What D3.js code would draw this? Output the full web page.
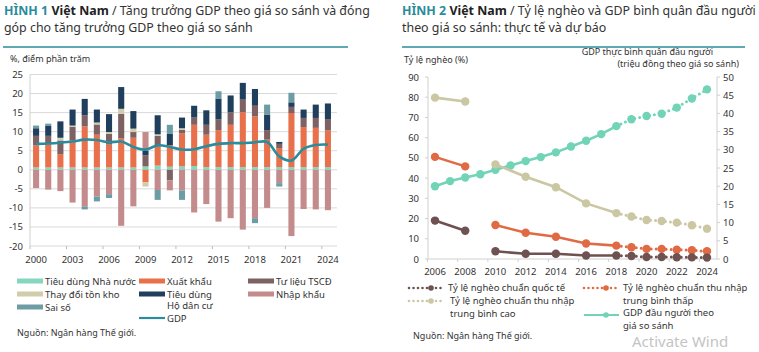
<html>
<head>
<meta charset="utf-8" />
<script src="https://cdn.jsdelivr.net/npm/d3@7"></script>
<style>
  html, body { margin: 0; padding: 0; background: #fff; }
  svg text { font-family: "Noto Sans", "DejaVu Sans", sans-serif; fill: #333; }
</style>
</head>
<body>
<svg width="759" height="352" id="mainsvg"></svg>
<script>
// ---------- data: figure 1 ----------
const years1 = d3.range(2000, 2025);
const nhaNuoc = [0.6,0.6,0.6,0.6,0.6,0.6,0.6,0.6,0.6,0.9,1.1,0.8,0.9,1.0,0.7,0.7,0.7,0.7,0.7,0.7,0.7,0.7,0.7,0.7,0.7];
const xuatKhau = [5.8,6.0,3.5,7.1,10.8,8.6,6.0,7.6,7.8,-3.3,5.0,5.7,8.7,10.8,8.5,9.7,11.1,14.4,13.3,7.2,5.0,14.2,10.5,10.3,9.6];
const tscd = [2.5,2.3,3.6,3.6,2.9,2.7,2.8,6.5,1.5,2.9,2.8,-2.8,0.9,1.9,2.6,2.8,3.3,3.3,2.8,2.5,1.1,1.6,2.4,2.6,3.0];
const tonKho = [0,0,0.7,0.3,0,0.5,0.5,1.3,0.9,-1.1,0.4,0,0.4,0,0,0,0,0,0,0,0,0,0,0,0];
const hoDanCu = [2.0,2.6,4.3,4.2,4.3,3.4,4.7,5.7,4.6,1.2,5.0,2.9,2.8,3.1,3.8,5.5,4.4,4.4,4.4,4.1,0.5,1.2,2.2,3.5,4.1];
const nhapKhau = [-4.8,-5.2,-5.6,-8.6,-9.6,-7.0,-6.4,-14.7,-9.6,4.9,-5.3,-2.6,-5.4,-11.2,-9.0,-13.6,-12.7,-15.7,-12.7,-10.0,-3.5,-17.4,-10.3,-10.4,-10.6];
const saiSo = [0.7,0.6,0,0,-0.8,-1.3,-1.0,0,0,0,-2.6,2.4,-2.5,0,0,1.9,0,0,-1.3,2.6,-0.9,2.5,0,0,0];
const gdp = [6.8,6.9,7.1,7.4,7.9,7.8,7.2,7.4,6.0,5.3,6.4,6.0,5.3,5.4,6.2,6.8,7.0,7.0,7.2,7.3,3.5,2.4,5.5,6.5,6.6];
const ticks1 = [-20,-15,-10,-5,0,5,10,15,20,25];
const xLabels1 = [2000,2003,2006,2009,2012,2015,2018,2021,2024];

// ---------- data: figure 2 ----------
const povYears = [2006,2008,2010,2012,2014,2016,2018,2019,2020,2021,2022,2023,2024];
const povQuocTe = [19.0,14.0,3.8,2.6,2.6,1.7,1.7,1.5,1.0,1.0,0.9,0.8,0.7];
const povTBThap = [50.5,45.8,16.8,13.0,11.0,7.7,6.6,5.8,5.0,5.0,4.6,4.3,3.8];
const povTBCao = [79.8,77.9,46.8,40.7,35.5,27.5,22.7,21.0,19.3,18.8,18.0,16.7,15.0];
const gdpYears = d3.range(2006, 2025);
const gdpPerCap = [20.0,21.4,22.4,23.3,24.5,25.7,26.9,28.0,29.3,30.9,32.5,34.3,36.5,38.4,39.3,39.9,41.6,44.1,46.6];
const leftTicks2 = [0,10,20,30,40,50,60,70,80,90];
const rightTicks2 = [0,5,10,15,20,25,30,35,40,45,50];
const xLabels2 = [2006,2008,2010,2012,2014,2016,2018,2020,2022,2024];
const forecastFrom = 2018;

const svg = d3.select("#mainsvg");
const teal = "#2a8c9c";

// ---------- titles ----------
function title(x, num, rest1, rest2) {
  const t = svg.append("text").attr("x", x).attr("y", 15).style("font-size", "12.4px");
  t.append("tspan").text(num + " ").style("font-weight", "700").style("fill", teal);
  t.append("tspan").text("Việt Nam").style("font-weight", "700").style("fill", "#222");
  t.append("tspan").text(" / " + rest1);
  svg.append("text").attr("x", x).attr("y", 32).style("font-size", "12.4px").text(rest2);
}
title(4, "HÌNH 1", "Tăng trưởng GDP theo giá so sánh và đóng", "góp cho tăng trưởng GDP theo giá so sánh");
title(402, "HÌNH 2", "Tỷ lệ nghèo và GDP bình quân đầu người", "theo giá so sánh: thực tế và dự báo");
svg.append("line").attr("x1", 3).attr("x2", 348).attr("y1", 47).attr("y2", 47).attr("stroke", teal).attr("stroke-width", 1.3);
svg.append("line").attr("x1", 402).attr("x2", 745).attr("y1", 47).attr("y2", 47).attr("stroke", teal).attr("stroke-width", 1.3);

// ---------- figure 1 ----------
const x1 = d3.scaleBand().domain(years1).range([30, 334]).paddingInner(0.5).paddingOuter(0.25);
const y1 = d3.scaleLinear().domain([-20, 25]).range([246, 74.5]);

svg.append("text").attr("x", 10).attr("y", 62).style("font-size", "9px").text("%, điểm phần trăm");

const g1 = svg.append("g");
g1.selectAll(".grid1").data(ticks1).join("line").attr("class", "grid1")
  .attr("x1", 30).attr("x2", 337).attr("y1", d => y1(d)).attr("y2", d => y1(d))
  .attr("stroke", "#d9d9d9").attr("stroke-width", 1);
g1.append("line").attr("x1", 30).attr("x2", 30).attr("y1", y1(25)).attr("y2", y1(-20)).attr("stroke", "#d0d0d0");
g1.selectAll(".ylab1").data(ticks1).join("text").attr("class", "ylab1")
  .attr("x", 23).attr("y", d => y1(d) + 3.5).attr("text-anchor", "end").style("font-size", "9.5px").text(d => d);
g1.selectAll(".xtick1").data(xLabels1).join("line").attr("class", "xtick1")
  .attr("x1", d => x1(d) + x1.bandwidth() / 2 - x1.step() / 2).attr("x2", d => x1(d) + x1.bandwidth() / 2 - x1.step() / 2)
  .attr("y1", y1(-20)).attr("y2", y1(-20) + 3).attr("stroke", "#bbb");
g1.selectAll(".xlab1").data(xLabels1).join("text").attr("class", "xlab1")
  .attr("x", d => x1(d) + x1.bandwidth() / 2).attr("y", 263).attr("text-anchor", "middle").style("font-size", "9.5px").text(d => d);

const keys = ["nn", "xk", "tscd", "tk", "hdc", "nk", "ss"];
const colors = { nn: "#86d6bd", xk: "#e8714b", tscd: "#7d6163", tk: "#cfcdaa", hdc: "#1f3f5c", nk: "#c38b8b", ss: "#6e9ca5" };
const rows = years1.map((yr, i) => ({ year: yr, nn: nhaNuoc[i], xk: xuatKhau[i], tscd: tscd[i], tk: tonKho[i], hdc: hoDanCu[i], nk: nhapKhau[i], ss: saiSo[i] }));
const stacked = d3.stack().keys(keys).offset(d3.stackOffsetDiverging)(rows);

g1.selectAll(".layer").data(stacked).join("g").attr("class", "layer").attr("fill", d => colors[d.key])
  .selectAll("rect").data(d => d).join("rect")
  .attr("x", d => x1(d.data.year)).attr("width", x1.bandwidth())
  .attr("y", d => y1(Math.max(d[0], d[1]))).attr("height", d => Math.abs(y1(d[0]) - y1(d[1])));

const gdpLine = d3.line().x((d, i) => x1(years1[i]) + x1.bandwidth() / 2).y(d => y1(d)).curve(d3.curveCatmullRom);
g1.append("path").datum(gdp).attr("d", gdpLine).attr("fill", "none").attr("stroke", teal).attr("stroke-width", 2.6);

// legend 1
const leg1 = [
  { k: "nn", t: ["Tiêu dùng Nhà nước"], x: 17, y: 281 },
  { k: "tk", t: ["Thay đổi tồn kho"], x: 17, y: 294 },
  { k: "ss", t: ["Sai số"], x: 17, y: 307 },
  { k: "xk", t: ["Xuất khẩu"], x: 139, y: 281 },
  { k: "hdc", t: ["Tiêu dùng", "Hộ dân cư"], x: 139, y: 294 },
  { k: "tscd", t: ["Tư liệu TSCĐ"], x: 248, y: 281 },
  { k: "nk", t: ["Nhập khẩu"], x: 248, y: 294 }
];
leg1.forEach(l => {
  svg.append("rect").attr("x", l.x).attr("y", l.y - 2.5).attr("width", 26).attr("height", 5).attr("fill", colors[l.k]);
  l.t.forEach((s, j) => svg.append("text").attr("x", l.x + 28).attr("y", l.y + 3.5 + j * 11.5).style("font-size", "9.5px").text(s));
});
svg.append("line").attr("x1", 139).attr("x2", 165).attr("y1", 318).attr("y2", 318).attr("stroke", teal).attr("stroke-width", 2.2);
svg.append("text").attr("x", 167).attr("y", 321.5).style("font-size", "9.5px").text("GDP");
svg.append("text").attr("x", 17).attr("y", 336).style("font-size", "9px").text("Nguồn: Ngân hàng Thế giới.");

// ---------- figure 2 ----------
const x2 = d3.scaleLinear().domain([2006, 2024]).range([435, 707]);
const yL = d3.scaleLinear().domain([0, 90]).range([259, 77]);
const yR = d3.scaleLinear().domain([0, 50]).range([259, 77]);

svg.append("text").attr("x", 404).attr("y", 63).style("font-size", "9px").text("Tỷ lệ nghèo (%)");
svg.append("text").attr("x", 713).attr("y", 55).attr("text-anchor", "end").style("font-size", "9px").text("GDP thực bình quân đầu người");
svg.append("text").attr("x", 739).attr("y", 66.5).attr("text-anchor", "end").style("font-size", "9px").text("(triệu đồng theo giá so sánh)");

const g2 = svg.append("g");
g2.append("line").attr("x1", 428).attr("x2", 428).attr("y1", 77).attr("y2", 259).attr("stroke", "#d0d0d0");
g2.append("line").attr("x1", 717).attr("x2", 717).attr("y1", 77).attr("y2", 259).attr("stroke", "#d0d0d0");
g2.append("line").attr("x1", 428).attr("x2", 717).attr("y1", 259).attr("y2", 259).attr("stroke", "#d0d0d0");
g2.selectAll(".lt").data(leftTicks2).join("line").attr("class", "lt")
  .attr("x1", 425).attr("x2", 428).attr("y1", d => yL(d)).attr("y2", d => yL(d)).attr("stroke", "#d0d0d0");
g2.selectAll(".rt").data(rightTicks2).join("line").attr("class", "rt")
  .attr("x1", 717).attr("x2", 720).attr("y1", d => yR(d)).attr("y2", d => yR(d)).attr("stroke", "#d0d0d0");
g2.selectAll(".bt").data(d3.range(2005.5, 2025, 2)).join("line").attr("class", "bt")
  .attr("x1", d => x2(d)).attr("x2", d => x2(d)).attr("y1", 259).attr("y2", 262).attr("stroke", "#d0d0d0");
g2.selectAll(".ylabL").data(leftTicks2).join("text").attr("class", "ylabL")
  .attr("x", 419).attr("y", d => yL(d) + 3.5).attr("text-anchor", "end").style("font-size", "9.5px").text(d => d);
g2.selectAll(".ylabR").data(rightTicks2).join("text").attr("class", "ylabR")
  .attr("x", 723).attr("y", d => yR(d) + 3.5).style("font-size", "9.5px").text(d => d);
g2.selectAll(".xlab2").data(xLabels2).join("text").attr("class", "xlab2")
  .attr("x", d => x2(d)).attr("y", 275).attr("text-anchor", "middle").style("font-size", "9.5px").text(d => d);

const c2 = { qt: "#6e5252", thap: "#e06a44", cao: "#cbc7a3", gdp: "#72d4b6" };

function drawSeries(yrs, vals, yScale, color, segs) {
  segs.forEach(s => {
    const pts = yrs.map((yr, i) => [yr, vals[i]]).filter(p => p[0] >= s[0] && p[0] <= s[1]);
    const path = g2.append("path").datum(pts)
      .attr("d", d3.line().x(p => x2(p[0])).y(p => yScale(p[1])))
      .attr("fill", "none").attr("stroke", color).attr("stroke-width", s[2] ? 3 : 2.6);
    if (s[2]) path.attr("stroke-dasharray", "0,5").attr("stroke-linecap", "round");
  });
  g2.selectAll(null).data(yrs.map((yr, i) => [yr, vals[i]])).join("circle")
    .attr("cx", p => x2(p[0])).attr("cy", p => yScale(p[1])).attr("r", 4.2).attr("fill", color);
}
drawSeries(gdpYears, gdpPerCap, yR, c2.gdp, [[2006, forecastFrom, false], [forecastFrom, 2024, true]]);
drawSeries(povYears, povTBCao, yL, c2.cao, [[2006, 2008, false], [2010, forecastFrom, false], [forecastFrom, 2024, true]]);
drawSeries(povYears, povTBThap, yL, c2.thap, [[2006, 2008, false], [2010, forecastFrom, false], [forecastFrom, 2024, true]]);
drawSeries(povYears, povQuocTe, yL, c2.qt, [[2006, 2008, false], [2010, forecastFrom, false], [forecastFrom, 2024, true]]);

// legend 2
function dotLeg(x, y, color) {
  svg.append("line").attr("x1", x).attr("x2", x + 34).attr("y1", y).attr("y2", y)
    .attr("stroke", color).attr("stroke-width", 2.6).attr("stroke-dasharray", "0,4.5").attr("stroke-linecap", "round");
  svg.append("circle").attr("cx", x + 22).attr("cy", y).attr("r", 2.8).attr("fill", color);
}
dotLeg(409, 288, c2.qt);
dotLeg(409, 301, c2.cao);
dotLeg(584, 288, c2.thap);
svg.append("line").attr("x1", 584).attr("x2", 619).attr("y1", 315).attr("y2", 315).attr("stroke", c2.gdp).attr("stroke-width", 2.2);
svg.append("circle").attr("cx", 606).attr("cy", 315).attr("r", 2.8).attr("fill", c2.gdp);
const leg2 = [
  { x: 448, y: 291, t: "Tỷ lệ nghèo chuẩn quốc tế" },
  { x: 450, y: 304, t: "Tỷ lệ nghèo chuẩn thu nhập" },
  { x: 450, y: 316.5, t: "trung bình cao" },
  { x: 623, y: 291, t: "Tỷ lệ nghèo chuẩn thu nhập" },
  { x: 623, y: 303.5, t: "trung bình thấp" },
  { x: 623, y: 316, t: "GDP đầu người theo" },
  { x: 623, y: 328.5, t: "giá so sánh" }
];
leg2.forEach(l => svg.append("text").attr("x", l.x).attr("y", l.y).style("font-size", "9.5px").text(l.t));
svg.append("text").attr("x", 413).attr("y", 339).style("font-size", "9px").text("Nguồn: Ngân hàng Thế giới.");
svg.append("text").attr("x", 632).attr("y", 346.5).style("font-size", "15px").style("fill", "#c4c4c4").text("Activate Wind");
</script>
</body>
</html>
